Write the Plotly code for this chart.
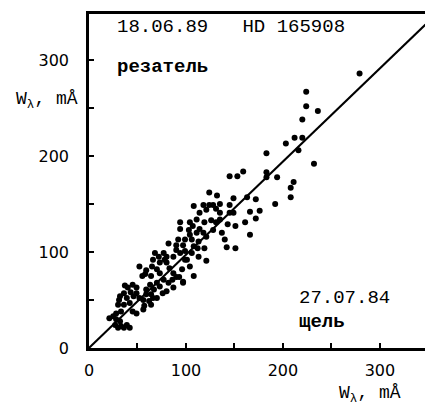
import plotly.graph_objects as go

# W_lambda (mÅ): x = 27.07.84 slit ("щель"), y = 18.06.89 image slicer ("резатель")
w_slit = [279, 224, 224, 236, 220, 212, 220, 203, 216, 232, 183, 183, 194, 183, 211, 208,
          192, 208, 172, 176, 172, 166, 161, 166, 163, 145, 153, 159, 151, 143, 149, 145,
          151, 142, 137, 135, 135, 140, 124, 132, 118, 124, 128, 135, 121, 131, 126, 119,
          111, 108, 107, 114, 121, 119, 112, 121, 106, 99, 94, 94, 104, 103, 104, 92,
          90, 97, 99, 106, 108, 101, 104, 108, 96, 97, 90, 99, 82, 77, 87, 80,
          83, 87, 86, 82, 87, 80, 73, 77, 68, 66, 73, 70, 65, 64, 70, 73,
          76, 67, 63, 59, 64, 59, 66, 62, 56, 57, 64, 70, 52, 58, 55, 49,
          45, 49, 52, 56, 46, 40, 37, 43, 36, 32, 39, 31, 36, 30, 42, 45,
          49, 33, 28, 25, 21, 28, 32, 33, 27, 36, 42, 39, 30, 114, 111, 118,
          113, 113, 94, 90, 97, 93, 128, 131, 149, 145, 72, 78, 80, 59]
w_cutter = [286, 267, 252, 247, 238, 219, 219, 213, 206, 192, 203, 183, 178, 178, 173, 167,
            150, 157, 155, 143, 135, 142, 131, 118, 157, 179, 179, 184, 127, 129, 141, 141,
            104, 105, 120, 134, 141, 113, 162, 159, 149, 149, 149, 150, 144, 145, 133, 131,
            134, 148, 127, 124, 116, 104, 104, 91, 113, 113, 131, 124, 131, 123, 118, 113,
            107, 107, 101, 99, 106, 92, 85, 75, 82, 69, 74, 92, 109, 99, 95, 89,
            83, 78, 71, 68, 63, 59, 78, 71, 99, 92, 89, 82, 85, 75, 68, 64,
            57, 61, 66, 61, 56, 56, 52, 49, 50, 44, 45, 52, 85, 77, 75, 63,
            66, 57, 52, 40, 54, 63, 65, 58, 57, 54, 52, 50, 45, 45, 47, 38,
            36, 38, 36, 33, 31, 30, 28, 23, 24, 21, 21, 24, 21, 141, 120, 120,
            111, 95, 99, 102, 68, 74, 123, 131, 156, 149, 95, 92, 95, 81]

# equality line as drawn on the original (slightly skewed scan)
diag_x = [0, 347]
diag_y = [0, 337]

tick_vals = [0, 100, 200, 300]
tick_text = ["0", "100", "200", "300"]
minor_step = 50

fig = go.Figure()
fig.add_trace(go.Scatter(x=diag_x, y=diag_y, mode="lines",
                         line=dict(color="black", width=2), showlegend=False,
                         hoverinfo="skip"))
fig.add_trace(go.Scatter(x=w_slit, y=w_cutter, mode="markers",
                         marker=dict(color="black", size=6), showlegend=False))

axis_common = dict(showgrid=False, zeroline=False, showline=True, linecolor="black",
                   linewidth=2.5, ticks="inside", ticklen=5, tickwidth=2,
                   tickcolor="black", tickvals=tick_vals, ticktext=tick_text,
                   minor=dict(ticks="inside", dtick=minor_step, tick0=0, ticklen=5,
                              tickwidth=2, tickcolor="black", showgrid=False),
                   tickfont=dict(family="DejaVu Sans", size=16, color="black"))

fig.update_xaxes(range=[0, 346.5], mirror=True, ticklabelstandoff=6, **axis_common)
fig.update_yaxes(range=[0, 348], mirror=False, ticklabelstandoff=14, **axis_common)

mono = "Liberation Mono"
ann = [
    dict(x=26.8, y=334, xref="x", yref="y", text="18.06.89   HD 165908",
         xanchor="left", yanchor="middle", font=dict(family=mono, size=19, color="black")),
    dict(x=26.8, y=293, xref="x", yref="y", text="<b>резатель</b>",
         xanchor="left", yanchor="middle", font=dict(family=mono, size=19, color="black")),
    dict(x=215, y=52, xref="x", yref="y", text="27.07.84",
         xanchor="left", yanchor="middle", font=dict(family=mono, size=19, color="black")),
    dict(x=215, y=27, xref="x", yref="y", text="<b>щель</b>",
         xanchor="left", yanchor="middle", font=dict(family=mono, size=19, color="black")),
    dict(x=-0.125, y=0.74, xref="paper", yref="paper", text="W<sub>λ</sub>, mÅ",
         xanchor="center", yanchor="middle", font=dict(family=mono, size=18, color="black")),
    dict(x=0.836, y=-0.138, xref="paper", yref="paper", text="W<sub>λ</sub>, mÅ",
         xanchor="center", yanchor="middle", font=dict(family=mono, size=18, color="black")),
]
for a in ann:
    a["showarrow"] = False
    fig.add_annotation(**a)

fig.update_layout(width=425, height=410, margin=dict(l=89, r=0, t=14, b=62),
                  paper_bgcolor="white", plot_bgcolor="white")

fig.write_html("out.html")
